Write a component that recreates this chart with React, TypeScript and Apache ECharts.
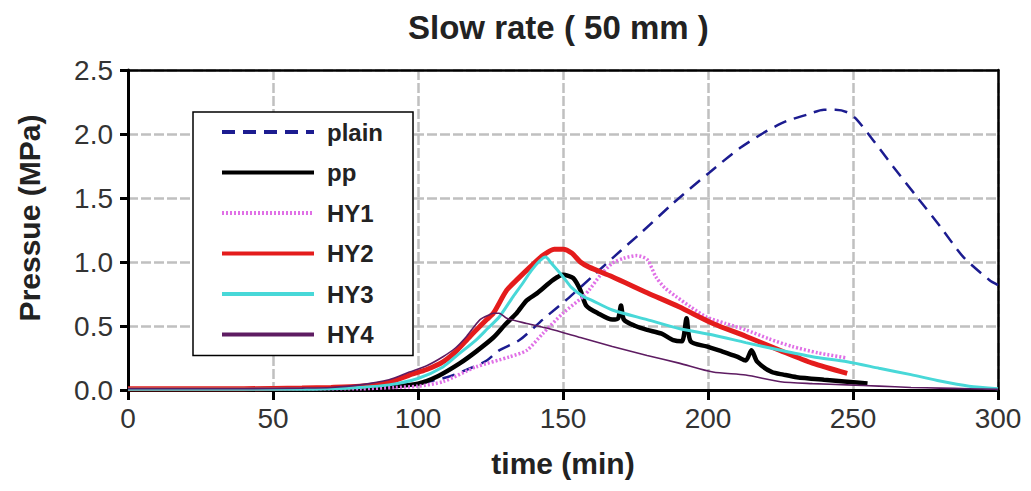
import React, { useEffect, useRef } from "react";
import * as echarts from "echarts";

const FONT = "'Liberation Sans', Arial, Helvetica, sans-serif";

const titleText = "Slow rate ( 50 mm )";
const xName = "time (min)";
const yName = "Pressue (MPa)";
const seriesNames = ["plain", "pp", "HY1", "HY2", "HY3", "HY4"];

const plainT = [0, 20, 40, 60, 70, 80, 90, 100, 110, 118, 123.7, 128, 135, 143, 152, 160, 170, 177, 188, 200, 211, 220, 227, 234, 240, 244, 248, 251, 257, 264, 272, 280, 288, 297, 300];
const plainP = [0.005, 0.005, 0.005, 0.005, 0.01, 0.02, 0.03, 0.05, 0.1, 0.17, 0.23, 0.31, 0.39, 0.55, 0.72, 0.885, 1.09, 1.23, 1.46, 1.69, 1.89, 2.02, 2.1, 2.15, 2.19, 2.19, 2.17, 2.12, 1.95, 1.74, 1.51, 1.28, 1.04, 0.86, 0.82];

const ppT = [0, 20, 40, 60, 70, 80, 90, 100, 107, 114.5, 120, 126, 130, 134, 137.5, 141, 146.6, 150, 153.5, 156, 158, 162, 167, 169, 170, 171, 175, 179, 184, 188, 191, 192.6, 194, 199.5, 205, 210, 213, 215, 217, 222, 226, 230.6, 240, 248, 255];
const ppP = [0.005, 0.005, 0.005, 0.01, 0.01, 0.015, 0.025, 0.05, 0.11, 0.21, 0.3, 0.41, 0.51, 0.6, 0.7, 0.755, 0.86, 0.9, 0.875, 0.78, 0.66, 0.6, 0.55, 0.56, 0.66, 0.55, 0.5, 0.47, 0.44, 0.39, 0.38, 0.56, 0.38, 0.34, 0.3, 0.26, 0.23, 0.31, 0.22, 0.14, 0.12, 0.1, 0.08, 0.065, 0.05];

const hy1T = [0, 20, 40, 60, 80, 92, 100, 108.6, 120, 131.7, 137.5, 143, 150, 157, 159, 163, 167, 171, 175.4, 179, 182, 185, 189, 194, 199.5, 206, 213, 221, 229, 238, 248];
const hy1P = [0.005, 0.005, 0.005, 0.01, 0.01, 0.02, 0.03, 0.065, 0.18, 0.26, 0.31, 0.44, 0.6, 0.73, 0.78, 0.9, 0.99, 1.03, 1.05, 1.02, 0.885, 0.8, 0.73, 0.65, 0.57, 0.52, 0.47, 0.4, 0.34, 0.29, 0.25];

const hy2T = [0, 20, 40, 60, 70, 80, 90, 97, 103, 108.6, 113, 118, 123.7, 126, 130.6, 134.5, 138.6, 143, 147, 150, 153, 156, 159, 167, 179, 190, 201.7, 213, 224.8, 236, 248];
const hy2P = [0.01, 0.01, 0.01, 0.015, 0.02, 0.03, 0.06, 0.117, 0.16, 0.22, 0.3, 0.42, 0.55, 0.6, 0.78, 0.87, 0.96, 1.05, 1.1, 1.1, 1.07, 1.0, 0.96, 0.885, 0.76, 0.65, 0.52, 0.42, 0.31, 0.21, 0.13];

const hy3T = [0, 20, 40, 60, 70, 80, 90, 100, 108.6, 114, 120, 124, 128, 132.8, 136, 139, 142, 144, 146, 150, 153, 157, 160, 167, 179, 190, 201.7, 213, 225, 236, 248, 259, 270, 280, 290, 300];
const hy3P = [0.005, 0.005, 0.005, 0.005, 0.01, 0.02, 0.04, 0.09, 0.18, 0.28, 0.39, 0.48, 0.57, 0.73, 0.83, 0.93, 1.01, 1.04, 0.99, 0.885, 0.8, 0.73, 0.7, 0.625, 0.55, 0.48, 0.43, 0.37, 0.31, 0.26, 0.22, 0.17, 0.12, 0.07, 0.03, 0.01];

const hy4T = [0, 20, 40, 60, 70, 80, 90, 97, 103, 108.6, 113, 116.8, 121.4, 124.8, 126, 128, 130.6, 137.5, 145, 156, 167, 179, 190, 201.7, 213, 225, 236, 248, 259, 270, 280, 290, 300];
const hy4P = [0.01, 0.01, 0.01, 0.015, 0.02, 0.04, 0.08, 0.14, 0.19, 0.26, 0.33, 0.42, 0.55, 0.59, 0.6, 0.6, 0.56, 0.52, 0.48, 0.41, 0.34, 0.27, 0.21, 0.14, 0.117, 0.065, 0.05, 0.04, 0.03, 0.02, 0.015, 0.01, 0.005];

const zip = (t: number[], p: number[]) => t.map((v, i) => [v, p[i]]);

export default function App() {
  const ref = useRef<HTMLDivElement>(null);
  useEffect(() => {
    if (!ref.current) return;
    const chart = echarts.init(ref.current, null, { renderer: "svg" });
    const mk = (name: string, t: number[], p: number[], color: string, width: number, type: any) => ({
      name,
      type: "line",
      data: zip(t, p),
      showSymbol: false,
      symbol: "none",
      smooth: 0.25,
      lineStyle: { color, width, type },
      itemStyle: { color },
    });
    const frameAxis = {
      type: "value" as const,
      axisLine: { show: true, onZero: false, lineStyle: { color: "#000", width: 2.5 } },
      axisTick: { show: false },
      axisLabel: { show: false },
      splitLine: { show: false },
    };
    chart.setOption({
      animation: false,
      backgroundColor: "#fff",
      title: {
        text: titleText,
        left: 403,
        top: 6,
        textStyle: { fontFamily: FONT, fontSize: 33, fontWeight: "bold", color: "#222" },
      },
      grid: { left: 128, right: 33, top: 70, bottom: 101 },
      legend: {
        orient: "vertical",
        left: 193,
        top: 112,
        padding: [8, 30, 9, 27],
        itemWidth: 92,
        itemHeight: 24,
        itemGap: 16.5,
        backgroundColor: "#fff",
        borderColor: "#000",
        borderWidth: 1.5,
        itemStyle: { opacity: 0, color: "transparent", borderWidth: 0 },
        lineStyle: { width: 4 },
        textStyle: { fontFamily: FONT, fontSize: 24, fontWeight: "bold", color: "#222", padding: [0, 0, 0, 8] },
        data: seriesNames,
      },
      xAxis: [
        {
          type: "value",
          min: 0,
          max: 300,
          interval: 50,
          name: xName,
          nameLocation: "middle",
          nameGap: 58,
          nameTextStyle: { fontFamily: FONT, fontSize: 30, fontWeight: "bold", color: "#222" },
          axisLine: { onZero: false, lineStyle: { color: "#000", width: 3 } },
          axisTick: { show: true, length: 10, lineStyle: { color: "#000", width: 3 } },
          axisLabel: { fontFamily: FONT, fontSize: 28, color: "#333", margin: 14 },
          splitLine: { show: true, lineStyle: { color: "#c0c0c0", width: 2.5, type: [10, 3] } },
        },
        { ...frameAxis, position: "top", min: 0, max: 300 },
      ],
      yAxis: [
        {
          type: "value",
          min: 0,
          max: 2.5,
          interval: 0.5,
          name: yName,
          nameLocation: "middle",
          nameGap: 84,
          nameTextStyle: { fontFamily: FONT, fontSize: 30, fontWeight: "bold", color: "#222", padding: [0, 0, 0, 24] },
          axisLine: { show: true, onZero: false, lineStyle: { color: "#000", width: 3 } },
          axisTick: { show: true, length: 8, lineStyle: { color: "#000", width: 3 } },
          axisLabel: { fontFamily: FONT, fontSize: 28, color: "#333", margin: 15, formatter: (v: number) => v.toFixed(1) },
          splitLine: { show: true, lineStyle: { color: "#c0c0c0", width: 2.5, type: [10, 3] } },
        },
        { ...frameAxis, position: "right", min: 0, max: 2.5 },
      ],
      series: [
        mk("plain", plainT, plainP, "#1c1c90", 2.5, [13, 8]),
        mk("pp", ppT, ppP, "#000000", 4.5, "solid"),
        mk("HY1", hy1T, hy1P, "#e070e6", 3.5, [2, 2]),
        mk("HY2", hy2T, hy2P, "#e41c1c", 5, "solid"),
        mk("HY3", hy3T, hy3P, "#48d8d8", 3, "solid"),
        mk("HY4", hy4T, hy4P, "#5e1c62", 1.6, "solid"),
      ],
    });
    return () => chart.dispose();
  }, []);
  return (
    <div
      ref={ref}
      style={{ position: "absolute", left: 0, top: 0, width: 1031, height: 491, background: "#fff" }}
    />
  );
}
